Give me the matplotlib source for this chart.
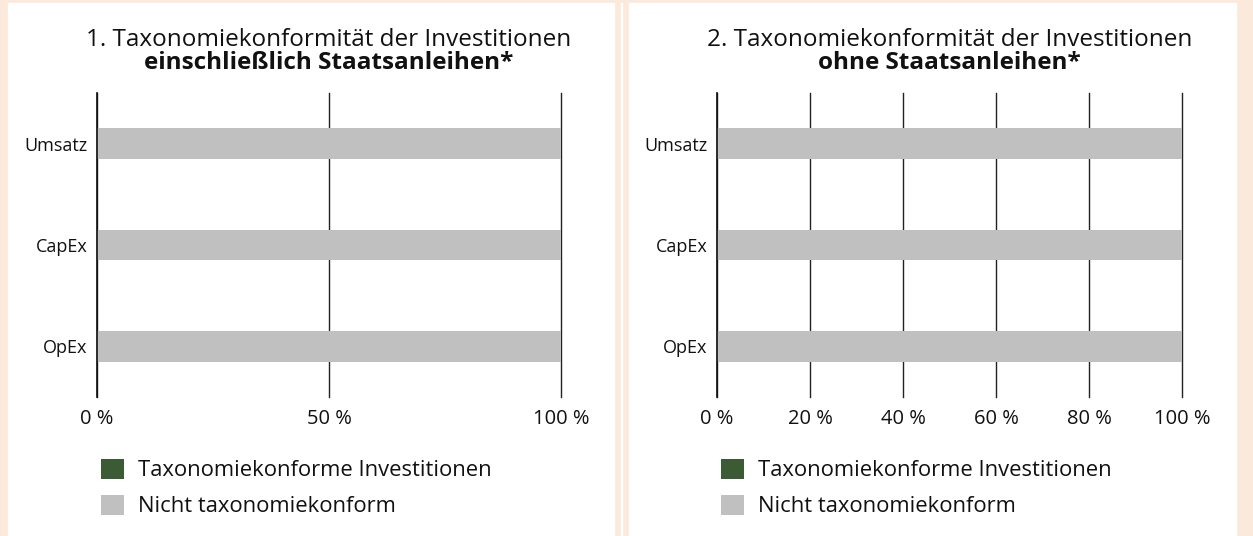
import matplotlib.pyplot as plt
from matplotlib.patches import Rectangle, Patch

plt.rcParams['font.family'] = ['Open Sans', 'DejaVu Sans']

# data
categories = ['Umsatz', 'CapEx', 'OpEx']
aligned_incl = [0, 0, 0]
not_aligned_incl = [100, 100, 100]
aligned_excl = [0, 0, 0]
not_aligned_excl = [100, 100, 100]
ticks_incl = [0, 50, 100]
ticks_excl = [0, 20, 40, 60, 80, 100]
titles = ['1. Taxonomiekonformität der Investitionen',
          '2. Taxonomiekonformität der Investitionen']
subtitles = ['einschließlich Staatsanleihen*', 'ohne Staatsanleihen*']
legend_labels = ['Taxonomiekonforme Investitionen', 'Nicht taxonomiekonform']

GREEN = '#3b5b34'
GREY = '#c0c0c0'
PEACH = '#fbe9dc'

W, H = 1253, 536
fig = plt.figure(figsize=(W / 100, H / 100), dpi=100, facecolor=PEACH)


def px(x0, y0, x1, y1):
    # pixel box (top-left origin) -> figure fraction rect
    return [x0 / W, 1 - y1 / H, (x1 - x0) / W, (y1 - y0) / H]


# white panels
for x0, x1 in [(8, 614), (629, 1236)]:
    fig.patches.append(Rectangle((x0 / W, 0), (x1 - x0) / W, 1 - 3 / H,
                                 transform=fig.transFigure, color='white', zorder=-5))
fig.patches.append(Rectangle((621 / W, 0), 1.2 / W, 1 - 3 / H,
                             transform=fig.transFigure, color='white', zorder=-5))

panels = [
    (px(97, 93, 561, 397), aligned_incl, not_aligned_incl, ticks_incl),
    (px(717, 93, 1182, 397), aligned_excl, not_aligned_excl, ticks_excl),
]

for i, (rect, al, nal, ticks) in enumerate(panels):
    ax = fig.add_axes(rect)
    ax.set_facecolor('none')
    y = list(range(len(categories)))
    ax.barh(y, al, height=0.3, color=GREEN, zorder=2)
    ax.barh(y, nal, left=al, height=0.3, color=GREY, zorder=2)
    ax.set_ylim(len(categories) - 0.5, -0.5)
    ax.set_xlim(0, 100)
    ax.set_yticks(y)
    ax.set_yticklabels(categories, fontsize=13)
    ax.set_xticks(ticks)
    ax.set_xticklabels([f'{t} %' for t in ticks], fontsize=14.5)
    ax.tick_params(axis='both', length=0, colors='#111111')
    ax.tick_params(axis='y', pad=7)
    ax.tick_params(axis='x', pad=9)
    for t in ticks:
        ax.axvline(t, color='#222222', lw=1, zorder=1, clip_on=False)
    for s in ['top', 'right', 'bottom']:
        ax.spines[s].set_visible(False)
    ax.spines['left'].set_color('#111111')
    ax.spines['left'].set_linewidth(1.2)

    cx = rect[0] + rect[2] / 2
    fig.text(cx, 1 - 40 / H, titles[i], ha='center', va='center', fontsize=17.5, color='#111111')
    fig.text(cx, 1 - 63 / H, subtitles[i], ha='center', va='center', fontsize=17.5,
             fontweight='bold', color='#111111')

    handles = [Patch(facecolor=GREEN), Patch(facecolor=GREY)]
    fig.legend(handles, legend_labels, loc='upper left',
               bbox_to_anchor=((rect[0] * W - 16) / W, 1 - 439 / H),
               frameon=False, fontsize=15.8, handlelength=1.05, handleheight=1.05,
               handletextpad=0.64, labelspacing=0.6, labelcolor='#111111')

fig.savefig('out.png', dpi=100, facecolor=PEACH)
